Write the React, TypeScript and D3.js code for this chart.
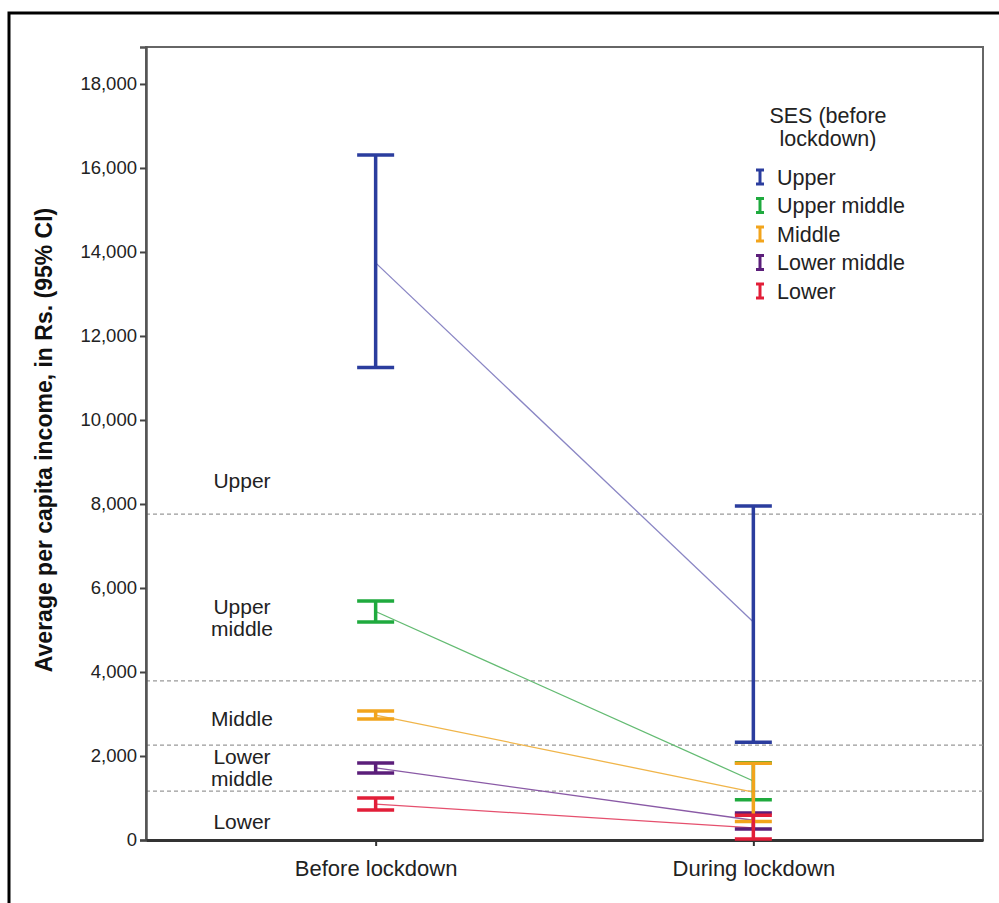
import { useEffect, useRef } from 'react';
import * as d3 from 'd3';

const periods = ['Before lockdown', 'During lockdown'];
const groups = ['Upper', 'Upper middle', 'Middle', 'Lower middle', 'Lower'];
const groupColors = ['#2b3d9e', '#1faa3e', '#f2a41c', '#5b1e7a', '#e21e38'];
const lineColors = ['#8a86c4', '#63bb72', '#f0b54a', '#8a5aa6', '#e5506e'];

// mean and 95% CI (Rs.)
const meanBefore = [13740, 5440, 2975, 1715, 855];
const lowBefore = [11250, 5190, 2880, 1595, 715];
const highBefore = [16310, 5690, 3070, 1835, 1000];
const meanDuring = [5190, 1405, 1140, 470, 290];
const lowDuring = [2330, 960, 440, 260, 25];
const highDuring = [7950, 1840, 1830, 640, 590];

// SES cut-offs (dashed reference lines) and the band labels on the left
const thresholds = [7760, 3790, 2260, 1165];
const bandLabels = [['Upper'], ['Upper', 'middle'], ['Middle'], ['Lower', 'middle'], ['Lower']];
const bandLabelValues = [8550, 5290, 2880, 1710, 430];

const yTicks = d3.range(0, 18001, 2000);

export default function App() {
  const svgRef = useRef<SVGSVGElement>(null);

  useEffect(() => {
    if (!svgRef.current) return;
    const width = 999;
    const height = 903;
    const svg = d3.select(svgRef.current);
    svg.selectAll('*').remove();
    svg.attr('width', width).attr('height', height);

    const font = '"Liberation Sans", Arial, sans-serif';
    const left = 146, right = 983, top = 47, bottom = 840;

    const x = d3.scalePoint<string>().domain(periods).range([left, right]).padding(0.608);
    const y = d3.scaleLinear().domain([0, 18880]).range([bottom, top]);

    // outer border
    svg.append('rect')
      .attr('x', 9).attr('y', 13)
      .attr('width', 1000).attr('height', 1000)
      .attr('fill', 'white')
      .attr('stroke', '#000')
      .attr('stroke-width', 3);

    // plot frame
    svg.append('rect')
      .attr('x', left).attr('y', top)
      .attr('width', right - left).attr('height', bottom - top)
      .attr('fill', 'white')
      .attr('stroke', '#666')
      .attr('stroke-width', 2);

    // dashed SES cut-offs
    svg.selectAll('.cut')
      .data(thresholds)
      .join('line')
      .attr('x1', left).attr('x2', right)
      .attr('y1', d => y(d)).attr('y2', d => y(d))
      .attr('stroke', '#999')
      .attr('stroke-width', 1.2)
      .attr('stroke-dasharray', '4,3');

    // band labels
    bandLabels.forEach((lines, i) => {
      const t = svg.append('text')
        .attr('x', 242)
        .attr('y', y(bandLabelValues[i]))
        .attr('text-anchor', 'middle')
        .attr('font-family', font)
        .attr('font-size', '21px')
        .attr('fill', '#222');
      lines.forEach((l, j) => {
        t.append('tspan')
          .attr('x', 242)
          .attr('dy', j === 0 ? (lines.length === 1 ? '0.35em' : '-0.2em') : '1.05em')
          .text(l);
      });
    });

    // y axis
    const yAxis = svg.append('g').attr('transform', `translate(${left},0)`)
      .call(d3.axisLeft(y).tickValues(yTicks).tickSize(6).tickPadding(3).tickFormat(d3.format(',') as any));
    yAxis.select('.domain').attr('stroke', '#555').attr('stroke-width', 2.5);
    yAxis.selectAll('line').attr('stroke', '#444').attr('stroke-width', 2);
    yAxis.selectAll('text')
      .attr('font-family', font).attr('font-size', '18.5px').attr('fill', '#222');

    // x axis
    const xAxis = svg.append('g').attr('transform', `translate(0,${bottom})`)
      .call(d3.axisBottom(x).tickSize(6).tickPadding(14).tickSizeOuter(0));
    xAxis.select('.domain').attr('stroke', '#333').attr('stroke-width', 3);
    xAxis.selectAll('line').attr('stroke', '#333').attr('stroke-width', 2);
    xAxis.selectAll('text')
      .attr('font-family', font).attr('font-size', '22px').attr('fill', '#222');

    // y title
    svg.append('text')
      .attr('transform', `translate(52,440) rotate(-90)`)
      .attr('text-anchor', 'middle')
      .attr('font-family', font)
      .attr('font-size', '23px')
      .attr('font-weight', 'bold')
      .attr('fill', '#111')
      .text('Average per capita income, in Rs. (95% CI)');

    const capW = 37;
    const x0 = x(periods[0])!;
    const x1 = x(periods[1])!;
    const order = [1, 3, 2, 4, 0];

    // connecting lines between means
    order.forEach(i => {
      svg.append('line')
        .attr('x1', x0).attr('y1', y(meanBefore[i]))
        .attr('x2', x1).attr('y2', y(meanDuring[i]))
        .attr('stroke', lineColors[i])
        .attr('stroke-width', 1.3);
    });

    // error bars
    const drawBar = (cx: number, lo: number, hi: number, color: string) => {
      const g = svg.append('g').attr('stroke', color).attr('stroke-width', 3.5);
      g.append('line').attr('x1', cx).attr('x2', cx).attr('y1', y(lo)).attr('y2', y(hi));
      [lo, hi].forEach(v => {
        g.append('line')
          .attr('x1', cx - capW / 2).attr('x2', cx + capW / 2)
          .attr('y1', y(v)).attr('y2', y(v));
      });
    };
    order.forEach(i => {
      drawBar(x0, lowBefore[i], highBefore[i], groupColors[i]);
      drawBar(x1, lowDuring[i], highDuring[i], groupColors[i]);
    });

    // legend
    const legend = svg.append('g').attr('font-family', font).attr('fill', '#222');
    ['SES (before', 'lockdown)'].forEach((line, j) => {
      legend.append('text')
        .attr('x', 828).attr('y', 115 + j * 23)
        .attr('dy', '0.35em')
        .attr('text-anchor', 'middle')
        .attr('font-size', '21.5px')
        .text(line);
    });

    groups.forEach((name, i) => {
      const row = legend.append('g').attr('transform', `translate(760,${177 + i * 28.5})`);
      const ib = row.append('g').attr('stroke', groupColors[i]).attr('stroke-width', 3);
      ib.append('line').attr('x1', 0).attr('x2', 0).attr('y1', -7).attr('y2', 7);
      ib.append('line').attr('x1', -4).attr('x2', 4).attr('y1', -7).attr('y2', -7);
      ib.append('line').attr('x1', -4).attr('x2', 4).attr('y1', 7).attr('y2', 7);
      row.append('text')
        .attr('x', 17).attr('y', 0).attr('dy', '0.35em')
        .attr('font-size', '21.5px')
        .text(name);
    });
  }, []);

  return (
    <svg ref={svgRef} style={{ position: 'absolute', left: 0, top: 0, background: 'white' }} />
  );
}
